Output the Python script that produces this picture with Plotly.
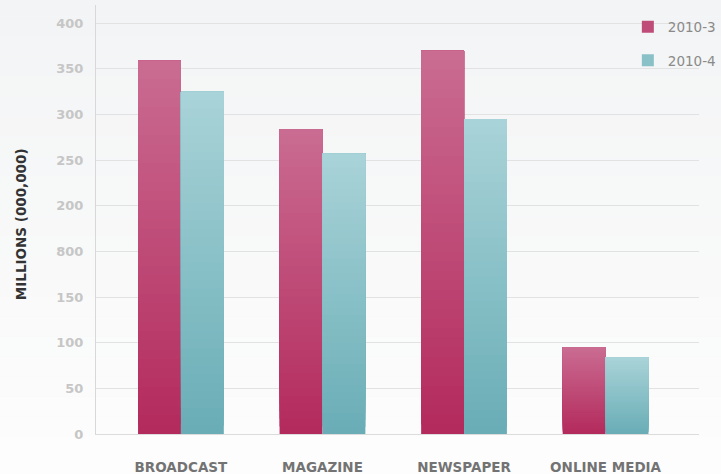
import plotly.graph_objects as go

# Media spend by channel, two periods
categories = ["BROADCAST", "MAGAZINE", "NEWSPAPER", "ONLINE MEDIA"]
series_names = ["2010-3", "2010-4"]
values_2010_3 = [409, 334, 420, 95]
values_2010_4 = [375, 307, 345, 84]

# Axis ticks (labels as printed on the chart)
tick_values = [0, 50, 100, 150, 200, 250, 300, 350, 400, 450]
tick_labels = ["0", "50", "100", "150", "800", "200", "250", "300", "350", "400"]

# Vertical gradient endpoints (bottom, top) per series
PINK = ((0xB3, 0x2A, 0x5C), (0xCA, 0x6C, 0x92))
TEAL = ((0x69, 0xAD, 0xB6), (0xA9, 0xD3, 0xD8))
N_SLICES = 40


def mix(c0, c1, t):
    return "rgb({},{},{})".format(*[round(a + (b - a) * t) for a, b in zip(c0, c1)])


fig = go.Figure()
x_idx = list(range(len(categories)))

# Each bar is layered: slice k runs from k/N of the value up to the full value,
# so later (lighter) slices cover the upper part and no seams show.
for name, vals, (c_bot, c_top) in [
    (series_names[0], values_2010_3, PINK),
    (series_names[1], values_2010_4, TEAL),
]:
    for k in range(N_SLICES):
        t = (k + 0.5) / N_SLICES
        fig.add_trace(go.Bar(
            x=x_idx,
            y=[v * (N_SLICES - k) / N_SLICES for v in vals],
            base=[v * k / N_SLICES for v in vals],
            offsetgroup=name,
            legendgroup=name,
            name=name,
            showlegend=(k == N_SLICES // 2),
            marker=dict(color=mix(c_bot, c_top, t), line=dict(width=0)),
            hoverinfo="skip",
        ))

# soft page background, fading toward white at the bottom
bands = 24
for i in range(bands):
    t = i / (bands - 1)
    c = mix((0xF3, 0xF4, 0xF5), (0xFD, 0xFD, 0xFD), t)
    fig.add_shape(type="rect", xref="paper", yref="paper", layer="below",
                  x0=-0.2, x1=1.1, y0=1.02 - (i + 1) * 1.12 / bands, y1=1.02 - i * 1.12 / bands,
                  fillcolor=c, line=dict(width=0))

fig.add_annotation(
    text="<b>MILLIONS (000,000)</b>", textangle=-90,
    xref="paper", yref="paper", x=-0.142, y=0.49, showarrow=False,
    font=dict(family="DejaVu Sans", size=13.5, color="#333333"),
)

fig.update_layout(
    width=721, height=474,
    margin=dict(l=96, r=0, t=5, b=40),
    paper_bgcolor="#f7f8f8",
    plot_bgcolor="rgba(0,0,0,0)",
    barmode="group",
    bargap=0.394,
    bargroupgap=0,
    showlegend=True,
    legend=dict(
        x=0.882, y=0.985, xanchor="left", yanchor="top",
        bgcolor="rgba(0,0,0,0)",
        font=dict(family="DejaVu Sans", size=13.5, color="#8a8a8a"),
        traceorder="grouped", tracegroupgap=13,
        itemwidth=30,
    ),
    xaxis=dict(
        range=[-0.6, 3.66],
        tickmode="array", tickvals=x_idx, ticktext=[f"<b>{c}</b>" for c in categories],
        tickfont=dict(family="DejaVu Sans", size=13.5, color="#737373"),
        ticks="outside", ticklen=21, tickcolor="rgba(0,0,0,0)",
        showgrid=False, zeroline=False,
        showline=True, linecolor="#dcdcdc", linewidth=1,
    ),
    yaxis=dict(
        range=[0, 470],
        tickmode="array", tickvals=tick_values, ticktext=[f"<b>{t}</b>" for t in tick_labels],
        tickfont=dict(family="DejaVu Sans", size=13, color="#c6c6c6"),
        ticks="outside", ticklen=9, tickcolor="rgba(0,0,0,0)",
        showgrid=True, gridcolor="#e2e2e2", gridwidth=1,
        zeroline=False,
        showline=True, linecolor="#d8d8d8", linewidth=1,
    ),
)

fig.write_html("out.html")
